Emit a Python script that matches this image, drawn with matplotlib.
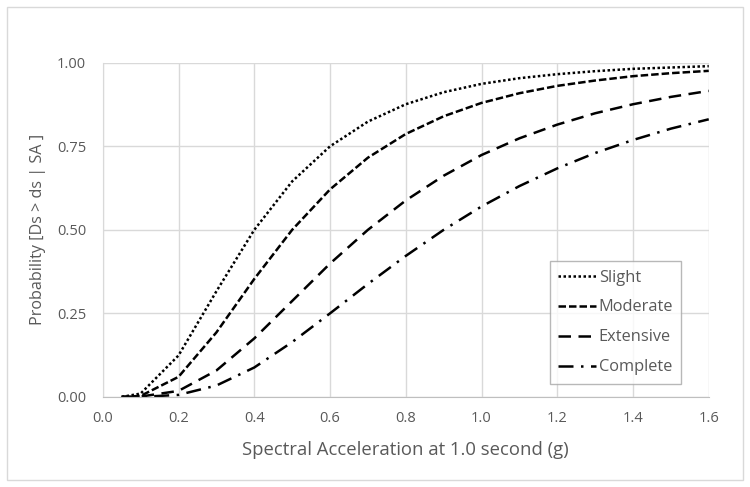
import matplotlib.pyplot as plt
from matplotlib.patches import Rectangle

# Spectral acceleration values (g)
sa = [0.05, 0.1, 0.2, 0.3, 0.4, 0.5, 0.6, 0.7, 0.8, 0.9,
      1.0, 1.1, 1.2, 1.3, 1.4, 1.5, 1.6]

# Probability of reaching or exceeding each damage state
slight = [0.0, 0.010, 0.124, 0.316, 0.500, 0.645, 0.750, 0.824, 0.876, 0.912,
          0.937, 0.954, 0.966, 0.975, 0.982, 0.986, 0.990]
moderate = [0.0, 0.003, 0.060, 0.193, 0.353, 0.500, 0.621, 0.716, 0.787, 0.840,
            0.880, 0.909, 0.931, 0.947, 0.960, 0.969, 0.976]
extensive = [0.0, 0.001, 0.018, 0.079, 0.175, 0.287, 0.399, 0.500, 0.588, 0.662,
             0.724, 0.774, 0.815, 0.849, 0.876, 0.898, 0.916]
complete = [0.0, 0.0, 0.006, 0.034, 0.088, 0.164, 0.250, 0.338, 0.422, 0.500,
            0.570, 0.631, 0.684, 0.730, 0.769, 0.803, 0.831]

labels = ["Slight", "Moderate", "Extensive", "Complete"]
x_ticks = [0.0, 0.2, 0.4, 0.6, 0.8, 1.0, 1.2, 1.4, 1.6]
y_ticks = [0.0, 0.25, 0.5, 0.75, 1.0]

plt.rcParams["font.family"] = ["Open Sans", "DejaVu Sans"]
grey_text = "#595959"
grid_col = "#d9d9d9"

fig = plt.figure(figsize=(7.5, 4.87), dpi=100)
ax = fig.add_axes([0.137, 0.185, 0.808, 0.686])

styles = [(0, (1, 1)), (0, (3, 1.2)), (0, (5, 3)), (0, (6, 3, 1, 3))]
series = [slight, moderate, extensive, complete]
for ys, lab, ls in zip(series, labels, styles):
    ax.plot(sa, ys, color="black", linewidth=1.8, linestyle=ls, label=lab)

ax.set_xlim(0, 1.6)
ax.set_ylim(0, 1.0)
ax.set_xticks(x_ticks)
ax.set_xticklabels([f"{v:.1f}" for v in x_ticks])
ax.set_yticks(y_ticks)
ax.set_yticklabels([f"{v:.2f}" for v in y_ticks])
ax.tick_params(length=0, labelsize=10.5, labelcolor=grey_text)
ax.tick_params(axis="x", pad=10)
ax.tick_params(axis="y", pad=12)
ax.grid(True, color=grid_col, linewidth=1)
ax.set_axisbelow(True)
for side in ["top", "right"]:
    ax.spines[side].set_visible(False)
ax.spines["left"].set_color(grid_col)
ax.spines["bottom"].set_color("#bfbfbf")

ax.set_xlabel("Spectral Acceleration at 1.0 second (g)", fontsize=13.3,
              color=grey_text, labelpad=11)
ax.set_ylabel("Probability [Ds > ds | SA ]", fontsize=11.6,
              color=grey_text, labelpad=8)

leg = ax.legend(loc="lower right", bbox_to_anchor=(0.955, 0.04), fontsize=11.8,
                frameon=True, fancybox=False, handlelength=2.3,
                handletextpad=0.2, labelspacing=0.85, borderpad=0.5,
                borderaxespad=0.0, labelcolor=grey_text)
leg.get_frame().set_edgecolor("#a6a6a6")
leg.get_frame().set_linewidth(1)

# light outer border of the chart area
fig.patches.append(Rectangle((0.009, 0.014), 0.982, 0.972,
                             transform=fig.transFigure, fill=False,
                             edgecolor=grid_col, linewidth=1))

fig.savefig("out.png", dpi=100)
